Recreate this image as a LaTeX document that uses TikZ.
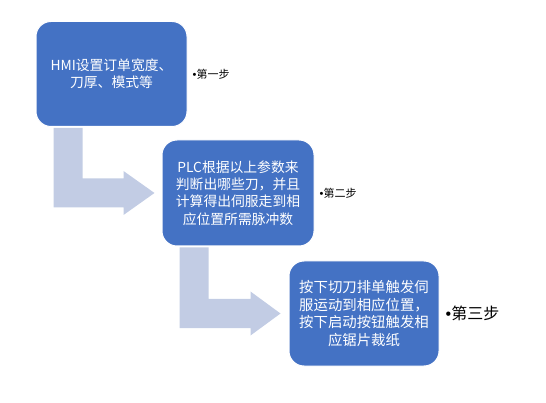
\documentclass[tikz,border=0pt]{standalone}
\usepackage{fontspec}
\setmainfont{Noto Sans CJK SC}
\newfontfamily\bulletfont{Liberation Sans}
\usetikzlibrary{positioning,calc}
\definecolor{boxblue}{RGB}{68,114,196}
\definecolor{arrowgray}{RGB}{194,204,228}

\begin{document}
\begin{tikzpicture}[x=1pt,y=-1pt,
            stepbox/.style={fill=boxblue,draw=white,line width=1pt,rounded corners=15pt,text=white,align=center,
                minimum width=151pt,minimum height=105pt,inner sep=0pt,font=\fontsize{13.8}{17.4}\selectfont},
            steplbl/.style={inner sep=2pt,font=\fontsize{11}{13}\selectfont},
            bendarrow/.style={fill=arrowgray}]
            \useasboundingbox (0,0) rectangle (546,403);
            \node[stepbox] (hmi) at (111.5,74) {HMI设置订单宽度、\\刀厚、模式等};
            \node[stepbox,minimum width=152pt,minimum height=106pt] (plc) at (238,193) {PLC根据以上参数来\\判断出哪些刀，并且\\计算得出伺服走到相\\应位置所需脉冲数};
            \node[stepbox,minimum width=150pt,font=\fontsize{14.4}{17.4}\selectfont] (saw) at (364,313.5) {按下切刀排单触发伺\\服运动到相应位置，\\按下启动按钮触发相\\应锯片裁纸};
            \node[steplbl,right=3pt of hmi] (s1) {{\bulletfont •}第一步};
            \node[steplbl,right=3pt of plc] (s2) {{\bulletfont •}第二步};
            \node[steplbl,right=4pt of saw,font=\fontsize{16}{18}\selectfont] (s3) {{\bulletfont •}第三步};
            % bent arrows between the steps
            \fill[bendarrow] ($(hmi.south west)+(18,1)$) |- ($(plc.west)+(-38,14.5)$) -- ++(0,7.5) -- ($(plc.west)+(-7,0)$)
                -- ($(plc.west)+(-38,-22)$) -- ++(0,7.5) -| ($(hmi.south west)+(47,1)$) -- cycle;
            \fill[bendarrow] ($(plc.south west)+(18,1)$) |- ($(saw.west)+(-38,14.5)$) -- ++(0,7.5) -- ($(saw.west)+(-8,0)$)
                -- ($(saw.west)+(-38,-22)$) -- ++(0,7.5) -| ($(plc.south west)+(47,1)$) -- cycle;
        \end{tikzpicture}
\end{document}
